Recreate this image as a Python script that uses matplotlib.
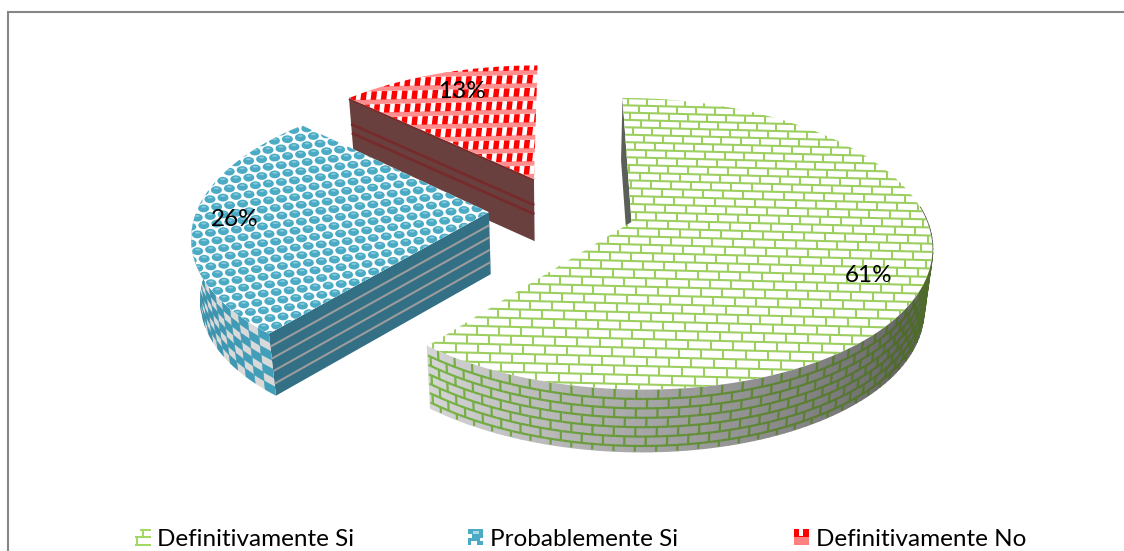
import numpy as np
import matplotlib
matplotlib.use('Agg')
import matplotlib.pyplot as plt
from matplotlib.collections import LineCollection, PolyCollection, EllipseCollection
from matplotlib.patches import Polygon, Rectangle

# chart data
categories = ['Definitivamente Si', 'Probablemente Si', 'Definitivamente No']
percent = [61, 26, 13]
label_pos = [(868, 275), (234, 219), (461, 91)]
legend_swatch_x = [135, 468, 794]

# projection of the tilted disc
X0, Y0 = 562.0, 210.0
A, B = 292.0, 139.0
P = 0.148
EXPLODE = 0.25
DEPTH = 62.0
TAPER = 0.024

plt.rcParams['font.family'] = ['Lato', 'DejaVu Sans']


def project(theta, mid, radius=1.0, depth=0.0):
    """disc angle (degrees, clockwise from north) to pixel position"""
    t = np.radians(theta)
    m = np.radians(mid)
    xd = EXPLODE * np.sin(m) + radius * np.sin(t)
    yd = EXPLODE * np.cos(m) + radius * np.cos(t)
    den = 1 + P * yd
    x = X0 + A * xd / den
    # lower edges lean slightly towards the middle
    x = x + (X0 - x) * TAPER * depth / DEPTH
    return x, Y0 - B * yd / den + depth


def top_outline(start, end, mid):
    th = np.linspace(start, end, 120)
    x, y = project(th, mid)
    ax_, ay_ = project(mid, mid, radius=0.0)
    return np.vstack([np.column_stack([x, y]), [[ax_, ay_]]])


def mix(c1, c2, f):
    c1 = np.array(matplotlib.colors.to_rgb(c1))
    c2 = np.array(matplotlib.colors.to_rgb(c2))
    return tuple(c1 + (c2 - c1) * f)


def radial_face(ax, theta, mid, body, stripes, stripe_color, stripe_lw, zorder):
    corners = [project(theta, mid), project(mid, mid, radius=0.0),
               project(mid, mid, radius=0.0, depth=DEPTH), project(theta, mid, depth=DEPTH)]
    ax.add_patch(Polygon(corners, closed=True, fc=body, ec='none', zorder=zorder))
    for d in stripes:
        p1 = project(theta, mid, depth=d)
        p2 = project(mid, mid, radius=0.0, depth=d)
        ax.plot([p1[0], p2[0]], [p1[1], p2[1]], color=stripe_color, lw=stripe_lw,
                solid_capstyle='butt', zorder=zorder + 0.1)


def green_side(ax, start, end, mid, zorder):
    th = np.arange(start, end, 1.5)
    th = np.append(th, end)
    polys, cols = [], []

    def shade(a):
        return max(0.0, (a - 125.0) / (end - 125.0))

    for a, b in zip(th[:-1], th[1:]):
        polys.append([project(a, mid), project(b, mid),
                      project(b, mid, depth=DEPTH), project(a, mid, depth=DEPTH)])
        cols.append(mix('#666666', '#d6d6d6', shade(a)))
    ax.add_collection(PolyCollection(polys, facecolors=cols, edgecolors=cols, lw=1.2,
                                     zorder=zorder))
    # curved brick courses
    segs, seg_cols = [], []
    row_h = DEPTH / 6.6
    for k in range(1, 7):
        d = k * row_h
        for a, b in zip(th[:-1], th[1:]):
            segs.append([project(a, mid, depth=d), project(b, mid, depth=d)])
            seg_cols.append(mix('#4f6b2c', '#78b545', shade(a)))
    step = 3.6
    for k in range(0, 7):
        off = step / 2 * (k % 2)
        for a in np.arange(start + off, end, step):
            segs.append([project(a, mid, depth=k * row_h),
                         project(a, mid, depth=min((k + 1) * row_h, DEPTH))])
            seg_cols.append(mix('#4f6b2c', '#78b545', shade(a)))
    ax.add_collection(LineCollection(segs, colors=seg_cols, linewidths=1.6, zorder=zorder + 0.1))


def brick_lines(y_top, y_bot, x_left, x_right):
    """brick courses in pixel space, rows grow a little towards the viewer"""
    segs = []
    y = y_top
    k = 0
    slope = -0.025
    while y < y_bot:
        h = 7.2 + (y - y_top) / (y_bot - y_top) * 2.2
        w = 19.0 + (y - y_top) / (y_bot - y_top) * 4.0
        segs.append([(x_left, y - slope * (x_left - 620)), (x_right, y - slope * (x_right - 620))])
        x = x_left + (k % 2) * w / 2
        while x < x_right:
            y1 = y - slope * (x - 620)
            segs.append([(x, y1), (x, y1 + h)])
            x += w
        y += h
        k += 1
    return segs


fig = plt.figure(figsize=(11.24, 5.51), dpi=100)
ax = fig.add_axes([0, 0, 1, 1])
ax.set_xlim(0, 1124)
ax.set_ylim(551, 0)
ax.axis('off')

# chart frame
ax.plot([8, 8, 1124], [551, 12, 12], color='#868686', lw=1.5, solid_joinstyle='miter', zorder=1)

# slice angles from the values
edges = np.concatenate([[0], np.cumsum(percent)]) * 3.6
mids = (edges[:-1] + edges[1:]) / 2

# --- red slice ---
r_mid = mids[2]
radial_face(ax, edges[2], r_mid, '#6a403e', [0.5, 26, 35], '#752b2b', 2.0, 2)
red_top = Polygon(top_outline(edges[2], edges[3], r_mid), closed=True, fc='white', ec='none', zorder=3)
ax.add_patch(red_top)
band_segs, rect_polys = [], []
for i, y in enumerate(np.arange(62, 185, 13.0)):
    band_segs.append([(340, y + 1.5), (545, y - 3)])
    for x in np.arange(340 + (i % 2) * 3, 545, 10.2):
        yy = y + 4.0 - (x - 340) * 0.022
        rect_polys.append([(x + 1, yy), (x + 6.5, yy), (x + 5.5, yy + 8.5), (x, yy + 8.5)])
bands = LineCollection(band_segs, colors='#ff8f8f', linewidths=3.4, zorder=3.1)
ax.add_collection(bands)
bands.set_clip_path(red_top)
rects = PolyCollection(rect_polys, facecolors='#ff0000', edgecolors='none', zorder=3.2)
ax.add_collection(rects)
rects.set_clip_path(red_top)

# --- blue slice ---
b_mid = mids[1]
radial_face(ax, edges[1], b_mid, '#336f85', [13, 25, 37.5, 50], '#9c9c9c', 1.5, 4)
# outer wall, checker cells along the rim
wall_th = np.linspace(edges[1], 278, 60)
xs, ys = project(wall_th, b_mid)
xb, yb = project(wall_th, b_mid, depth=DEPTH)
wall_base = Polygon(np.vstack([np.column_stack([xs, ys]), np.column_stack([xb, yb])[::-1]]),
                    closed=True, fc='#d9d9d9', ec='none', zorder=4)
ax.add_patch(wall_base)
cells, cell_cols = [], []
n_d = 7
n_t = 20
tstep = (wall_th[-1] - wall_th[0]) / n_t
dstep = DEPTH / n_d
for i in range(n_t):
    for j in range(n_d):
        if (i + j) % 2:
            continue
        t1 = edges[1] + i * tstep
        t2 = t1 + tstep
        cells.append([project(t1, b_mid, depth=j * dstep), project(t2, b_mid, depth=j * dstep),
                      project(t2, b_mid, depth=(j + 1) * dstep), project(t1, b_mid, depth=(j + 1) * dstep)])
        cell_cols.append(mix('#429fba', '#2f7f98', i / n_t))
wall_cells = PolyCollection(cells, facecolors=cell_cols, edgecolors=cell_cols, lw=0.4, zorder=4.1)
ax.add_collection(wall_cells)
wall_cells.set_clip_path(wall_base)

blue_top = Polygon(top_outline(edges[1], edges[2], b_mid), closed=True, fc='white', ec='none', zorder=5)
ax.add_patch(blue_top)
centers = []
for i in range(-5, 48):
    for j in range(-30, 30):
        centers.append((170 + i * 6.6 + j * 13.0, 120 + i * 7.6 - j * 1.6))
centers = np.array(centers)
dots = EllipseCollection(np.full(len(centers), 11.0), np.full(len(centers), 7.8), np.zeros(len(centers)),
                         units='xy', offsets=centers, offset_transform=ax.transData,
                         facecolors='#4babc5', edgecolors='none', zorder=5.1)
ax.add_collection(dots)
dots.set_clip_path(blue_top)
glints = EllipseCollection(np.full(len(centers), 5.0), np.full(len(centers), 1.8), np.zeros(len(centers)),
                           units='xy', offsets=centers - [0, 1.6], offset_transform=ax.transData,
                           facecolors='#86cadb', edgecolors='none', zorder=5.2)
ax.add_collection(glints)
glints.set_clip_path(blue_top)

# --- green slice ---
g_mid = mids[0]
radial_face(ax, edges[0], g_mid, '#5a5f58', [], '#000000', 1, 6)
green_side(ax, 84, edges[1], g_mid, 6)
green_top = Polygon(top_outline(edges[0], edges[1], g_mid), closed=True, fc='white', ec='none', zorder=7)
ax.add_patch(green_top)
bricks = LineCollection(brick_lines(98, 400, 400, 940), colors='#9ccf60', linewidths=1.5, zorder=7.1)
ax.add_collection(bricks)
bricks.set_clip_path(green_top)

# percentage labels
for pct, (lx, ly) in zip(percent, label_pos):
    ax.text(lx + 1, ly + 1, '{}%'.format(pct), ha='center', va='center', fontsize=17.5, color='black', zorder=10)

# legend row
for name, sx in zip(categories, legend_swatch_x):
    ax.text(sx + 22, 539.5, name, ha='left', va='center', fontsize=17.5, color='black', zorder=10)

sx = legend_swatch_x[0]
ax.plot([sx + 1, sx + 15], [544.5, 544.5], color='#9fd860', lw=1.4)
ax.plot([sx + 1, sx + 15], [537, 537], color='#9fd860', lw=1.4)
ax.plot([sx + 6, sx + 15], [530, 530], color='#9fd860', lw=1.4)
ax.plot([sx + 1.5, sx + 1.5], [537, 544.5], color='#9fd860', lw=1.4)
ax.plot([sx + 8, sx + 8], [530, 537], color='#9fd860', lw=1.4)

sx = legend_swatch_x[1]
ax.add_patch(Rectangle((sx, 529), 15, 16, fc='#4babc5', ec='none'))
ax.add_patch(Rectangle((sx, 534), 4, 4, fc='white', ec='none'))
ax.add_patch(Rectangle((sx + 5, 531), 6, 3, fc='#a6d8e6', ec='none'))
ax.add_patch(Rectangle((sx + 3, 541), 6, 4, fc='white', ec='none'))
ax.add_patch(Rectangle((sx + 12, 538), 3, 3, fc='white', ec='none'))

sx = legend_swatch_x[2]
ax.add_patch(Rectangle((sx, 529), 15, 16, fc='#ff0000', ec='none'))
ax.add_patch(Rectangle((sx + 5, 529), 4, 7, fc='white', ec='none'))
ax.add_patch(Rectangle((sx, 537), 15, 8, fc='#ff8080', ec='none'))

fig.savefig('out.png', dpi=100)
